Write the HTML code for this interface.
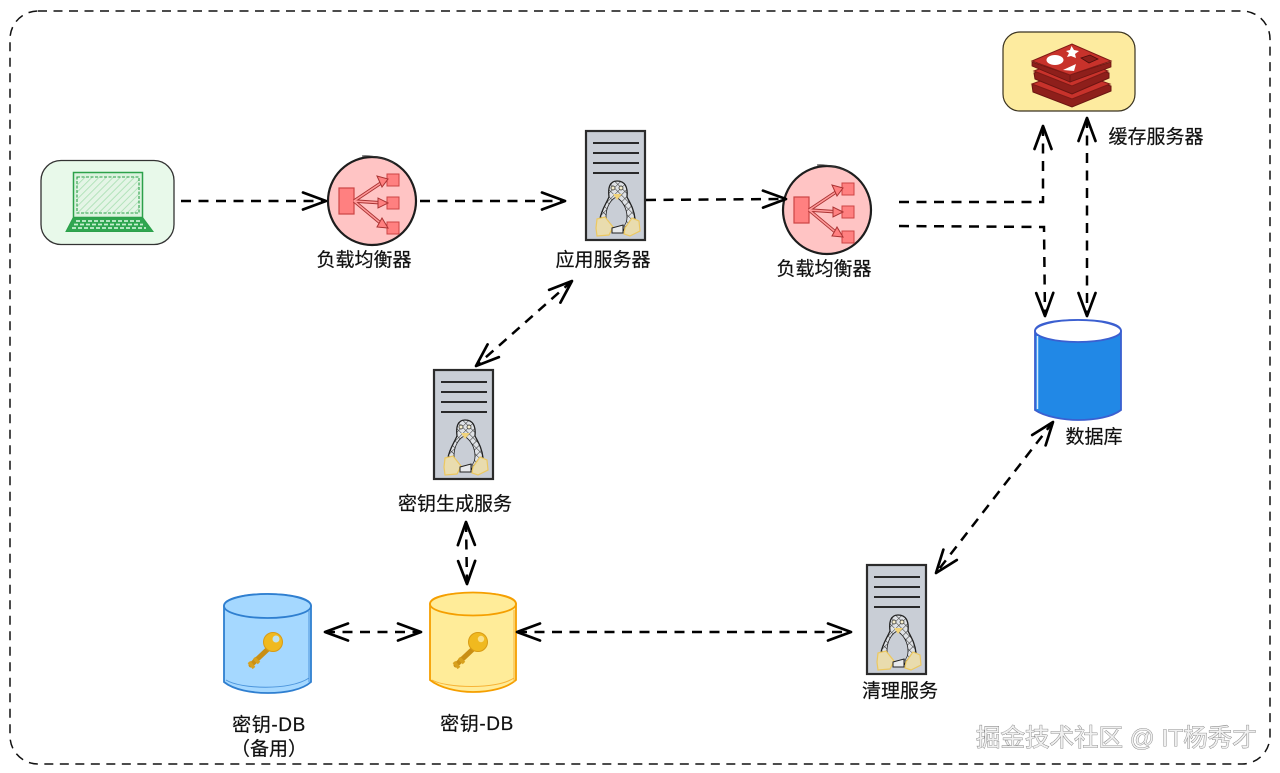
<!DOCTYPE html>
<html lang="zh">
<head>
<meta charset="utf-8">
<title>系统架构图</title>
<style>
html,body{margin:0;padding:0;background:#fff;width:1280px;height:773px;overflow:hidden}
svg{display:block}
text{font-family:"Liberation Sans","Noto Sans CJK SC",sans-serif;font-size:19px;fill:#111;stroke:#111;stroke-width:.2px}
.a{fill:none;stroke:#000;stroke-width:2.5;stroke-dasharray:10 7.500;marker-end:url(#h)}
.b{marker-start:url(#h)}
</style>
</head>
<body>
<svg width="1280" height="773" viewBox="0 0 1280 773" xmlns="http://www.w3.org/2000/svg">
<defs>
<marker id="h" markerUnits="userSpaceOnUse" markerWidth="30" markerHeight="24" refX="24" refY="12" orient="auto-start-reverse" overflow="visible">
<path d="M1 3.500 L24 12 L1 20.500" fill="none" stroke="#000" stroke-width="2.700" stroke-linecap="round" stroke-linejoin="round"/>
</marker>
<pattern id="hatch" width="5" height="5" patternUnits="userSpaceOnUse" patternTransform="rotate(45)">
<rect width="5" height="5" fill="#e4f5e6"/><line x1="0" y1="0" x2="0" y2="5" stroke="#a7dfb0" stroke-width="1.600"/>
</pattern>
<pattern id="net" width="5" height="5" patternUnits="userSpaceOnUse" patternTransform="rotate(45)">
<rect width="5" height="5" fill="#dfe2e6"/><path d="M0 0H5M0 0V5" stroke="#333" stroke-width="1"/>
</pattern>
<g id="srv">
<rect x="0" y="0" width="59" height="109" fill="#c9ced6" stroke="#2b2b2b" stroke-width="2.200"/>
<path d="M7 12H53M7 22H53M7 32H53M7 42H53" stroke="#111" stroke-width="1.800"/>
<path d="M31 50 C23 50 22 58 23 66 C20 73 15 80 14 88 L20 90 L27 100 L37 100 L44 90 L49 88 C48 78 44 72 41 66 C42 56 39 50 31 50Z" fill="url(#net)" stroke="#222" stroke-width="1.300"/>
<path d="M30 66 C23 70 20 78 20 86 C22 94 26 98 31 98 C37 97 41 94 41 86 C41 78 37 70 30 66Z" fill="#c9ced6" stroke="#222" stroke-width="0.800"/>
<path d="M27 63 L31 69 L36 63 Z" fill="#f1d37a"/>
<circle cx="27" cy="57" r="2" fill="#f6eecd" stroke="#222" stroke-width=".7"/>
<circle cx="35" cy="57" r="2" fill="#f6eecd" stroke="#222" stroke-width=".7"/>
<path d="M11 88 L19 86 L27 96 L23 104 L11 105 L10 97Z" fill="#e9dcae" stroke="#ecc860" stroke-width="1.200"/>
<path d="M39 97 L46 87 L53 90 L54 100 L44 105 L38 103Z" fill="#e9dcae" stroke="#ecc860" stroke-width="1.200"/>
<path d="M26 97 L37 94 L37 102 L26 102Z" fill="#e8eaec" stroke="#222" stroke-width="1"/>
</g>
<g id="lb">
<circle r="44" fill="#ffc4c4" stroke="#1d1d1d" stroke-width="2.200"/>
<path d="M-10 -45 Q4 -46 22 -38" fill="none" stroke="#333" stroke-width="1"/>
<rect x="-33" y="-13" width="15" height="26" fill="#ff8080" stroke="#c44" stroke-width="1.200"/>
<rect x="15" y="-27" width="12" height="12" fill="#ff8080" stroke="#c44" stroke-width="1"/>
<rect x="15" y="-4" width="12" height="12" fill="#ff8080" stroke="#c44" stroke-width="1"/>
<rect x="15" y="21" width="12" height="12" fill="#ff8080" stroke="#c44" stroke-width="1"/>
<path d="M-18 0 L12 -20 M-18 0 L12 2 M-18 0 L12 25" stroke="#a33" stroke-width="3.400" fill="none"/>
<path d="M-18 0 L12 -20 M-18 0 L12 2 M-18 0 L12 25" stroke="#ff9a9a" stroke-width="1.500" fill="none"/>
<path d="M16 -22 L5 -25 L10 -14Z M16 2 L6 -3 L6 7Z M16 27 L10 17 L5 26Z" fill="#ff8080" stroke="#a33" stroke-width="1"/>
</g>
<g id="key">
<path d="M2 19 L-15 35" fill="none" stroke="#c98f14" stroke-width="5" stroke-linecap="round"/>
<path d="M-17 32 L-12 38 M-12 28 L-7 33" stroke="#d8a11d" stroke-width="3.500"/>
<circle cx="7" cy="12" r="9.500" fill="#f0b91f" stroke="#d99b14" stroke-width="1"/>
</g>
</defs>

<rect x="10" y="11" width="1260" height="753" rx="28" fill="#fff" stroke="#111" stroke-width="1.500" stroke-dasharray="9 6.500"/>

<!-- 笔记本 -->
<rect x="41" y="160.500" width="133" height="84" rx="20" fill="#e8f9ea" stroke="#333" stroke-width="1.300"/>
<rect x="73.500" y="172.500" width="69" height="45" fill="#dcf3df" stroke="#2ca14a" stroke-width="1.500"/>
<rect x="77" y="177" width="62" height="36" fill="url(#hatch)" stroke="#2ca14a" stroke-width="1.100" stroke-dasharray="3 1.500"/>
<path d="M73 218 H143 L153 231.500 H66Z" fill="#2fa650" stroke="#2ca14a" stroke-width="1"/>
<path d="M76 221H140M74 224.500H143M72 228H146" stroke="#c8f0d0" stroke-width="1.800" stroke-dasharray="4 2"/>

<!-- 负载均衡器 -->
<use href="#lb" x="372" y="201"/>
<use href="#lb" x="827" y="210"/>

<!-- 服务器 -->
<use href="#srv" x="586" y="131"/>
<use href="#srv" x="434" y="370"/>
<use href="#srv" x="867" y="565"/>

<!-- Redis -->
<rect x="1003" y="32" width="132" height="79" rx="17" fill="#fdeb9f" stroke="#3a3320" stroke-width="1.200"/>
<path d="M1032 85 L1070 74 L1111 86 L1111 91 L1072 107 L1033 92Z" fill="#8e1f1b" stroke="#6b1512" stroke-width="1"/>
<path d="M1032 84 L1070 70 L1110 84 L1072 99Z" fill="#c8322b" stroke="#7e1a16" stroke-width="1"/>
<path d="M1034 73 L1070 60 L1109 73 L1109 78 L1072 94 L1035 79Z" fill="#8e1f1b" stroke="#6b1512" stroke-width="1"/>
<path d="M1034 71 L1070 57 L1108 71 L1072 86Z" fill="#c8322b" stroke="#7e1a16" stroke-width="1"/>
<path d="M1032 62 L1070 75 L1070 82 L1032 66Z M1111 62 L1070 75 L1070 82 L1111 67Z" fill="#8e1f1b" stroke="#6b1512" stroke-width=".8"/>
<path d="M1032 61 L1072 44 L1111 61 L1070 75Z" fill="#c8322b" stroke="#7e1a16" stroke-width="1"/>
<ellipse cx="1055" cy="60" rx="8.500" ry="5" fill="#fff"/>
<path d="M1070 50 L1071.500 46 L1074 50 L1079 51 L1075 54 L1076 58 L1071 56 L1067 57 L1069 53 L1066 51Z" fill="#fff"/>
<path d="M1063 70 L1076 64 L1074 71Z" fill="#fff"/>
<path d="M1081 58 L1090 55 L1098 59 L1089 63Z" fill="#8e1f1b" stroke="#4d0e0c" stroke-width=".8"/>

<!-- 数据库 -->
<path d="M1035 331 L1035 410 C1045 417 1065 420 1078 420 C1095 420 1112 417 1121 410 L1121 331 C1121 323 1100 320 1078 320 C1056 320 1035 323 1035 331Z" fill="#2188e6" stroke="#3b5fd0" stroke-width="1.800"/>
<ellipse cx="1078" cy="331" rx="43" ry="11" fill="#fff" stroke="#3b5fd0" stroke-width="1.800"/>
<path d="M1037.500 336 V409" stroke="#d7e9fb" stroke-width="1.500"/>

<!-- 密钥-DB 备用 -->
<path d="M224 606 L224 682 C234 690 252 693 268 693 C285 693 302 690 311 682 L311 606 C311 598 290 594 268 594 C246 594 224 598 224 606Z" fill="#a5d8ff" stroke="#2f7fd0" stroke-width="1.800"/>
<ellipse cx="267.500" cy="606" rx="43.500" ry="12" fill="#a5d8ff" stroke="#2f7fd0" stroke-width="1.800"/>
<path d="M226 680 C240 689 290 691 309 678 M309 610 V682" fill="none" stroke="#4c95dc" stroke-width="1"/>
<use href="#key" x="266" y="630"/>
<circle cx="276" cy="639" r="3.500" fill="#bfe3f0"/>

<!-- 密钥-DB -->
<path d="M430 604 L430 680 C440 688 458 692 473 692 C490 692 507 688 516 680 L516 604 C516 596 495 593 473 593 C451 593 430 596 430 604Z" fill="#ffec99" stroke="#f59f00" stroke-width="1.800"/>
<ellipse cx="473" cy="604" rx="43" ry="11.500" fill="#ffec99" stroke="#f59f00" stroke-width="1.800"/>
<path d="M432 680 C446 688 496 690 514 678 M514 610 V682" fill="none" stroke="#f7b336" stroke-width="1"/>
<use href="#key" x="471" y="630"/>
<circle cx="481" cy="639" r="3.200" fill="#f9e08a"/>

<!-- 连接线 -->
<path class="a" d="M181 201 H326"/>
<path class="a" d="M420 201 H565"/>
<path class="a" d="M646 200 L786 199"/>
<path class="a" d="M899 202 L1043 202 L1043 126"/>
<path class="a" d="M899 226 L1044 227 L1045 316"/>
<path class="a b" d="M1087 118 V316"/>
<path class="a b" d="M572 281 L476 366"/>
<path class="a b" d="M466 522 L467 584"/>
<path class="a b" d="M325 632 H421"/>
<path class="a b" d="M517 632 H851"/>
<path class="a b" d="M1053 422 L936 573"/>

<!-- 文字 -->
<text x="364" y="266" text-anchor="middle">负载均衡器</text>
<text x="603" y="266" text-anchor="middle">应用服务器</text>
<text x="824" y="275" text-anchor="middle">负载均衡器</text>
<text x="1156" y="143" text-anchor="middle">缓存服务器</text>
<text x="1094" y="443" text-anchor="middle">数据库</text>
<text x="455" y="510" text-anchor="middle">密钥生成服务</text>
<text x="900" y="697" text-anchor="middle">清理服务</text>
<text x="269" y="731" text-anchor="middle" letter-spacing=".6">密钥-DB</text>
<text x="269" y="755" text-anchor="middle">（备用）</text>
<text x="477" y="730" text-anchor="middle" letter-spacing=".6">密钥-DB</text>
<text x="976" y="746" style="font-size:24.500px;fill:#f0f0f0;stroke:#777;stroke-width:.8px;paint-order:stroke">掘金技术社区 @ IT杨秀才</text>
</svg>
</body>
</html>
